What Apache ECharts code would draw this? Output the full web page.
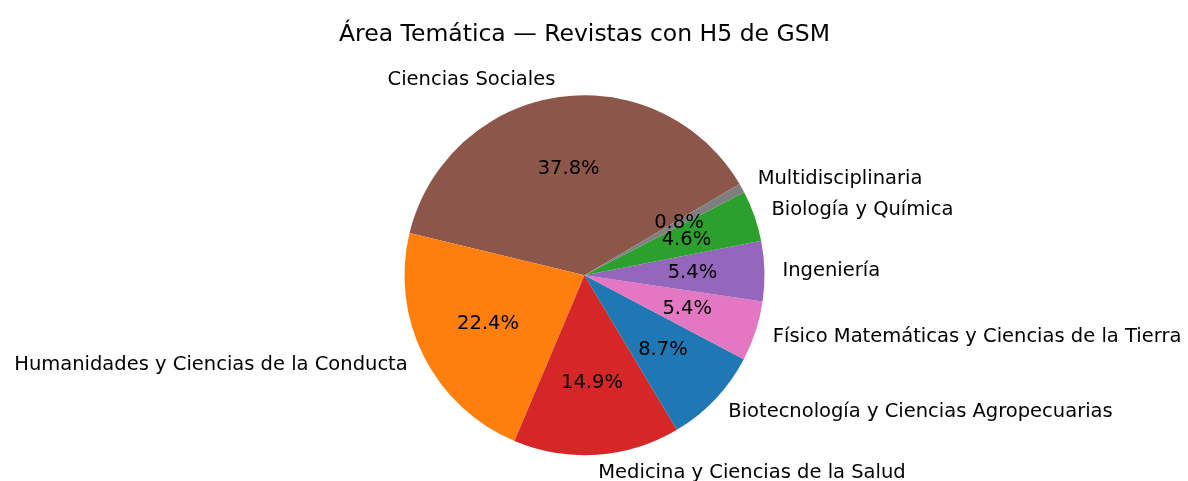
<!DOCTYPE html>
<html>
<head>
<meta charset="utf-8">
<script src="https://cdn.jsdelivr.net/npm/echarts@6/dist/echarts.min.js"></script>
<style>
  html, body { margin: 0; padding: 0; background: #ffffff; }
  #chart { width: 1188px; height: 481px; }
</style>
</head>
<body>
<div id="chart"></div>
<script>
const titleText = 'Área Temática — Revistas con H5 de GSM';
const categories = [
  'Ciencias Sociales',
  'Humanidades y Ciencias de la Conducta',
  'Medicina y Ciencias de la Salud',
  'Biotecnología y Ciencias Agropecuarias',
  'Físico Matemáticas y Ciencias de la Tierra',
  'Ingeniería',
  'Biología y Química',
  'Multidisciplinaria'
];
const counts = [91, 54, 36, 21, 13, 13, 11, 2];
const colors = ['#8c564b', '#ff7f0e', '#d62728', '#1f77b4', '#e377c2', '#9467bd', '#2ca02c', '#7f7f7f'];

const total = counts.reduce((a, b) => a + b, 0);
const FONT = 'DejaVu Sans';
const CX = 584.5, CY = 275.3, R = 180;
const START = 30.5;

const pieData = categories.map((name, i) => ({
  name: name, value: counts[i], itemStyle: { color: colors[i] }
}));
const pctData = categories.map((name, i) => ({ name: name, value: counts[i] }));

const chart = echarts.init(document.getElementById('chart'), null, { renderer: 'canvas' });
chart.setOption({
  backgroundColor: '#ffffff',
  animation: false,
  title: {
    text: titleText,
    left: CX - 5,
    textAlign: 'center',
    top: 18,
    textStyle: { fontFamily: FONT, fontSize: 23.5, fontWeight: 'normal', color: '#000000' }
  },
  series: [
    {
      type: 'pie',
      center: [CX, CY],
      radius: [0, R],
      startAngle: START,
      clockwise: false,
      avoidLabelOverlap: false,
      minShowLabelAngle: 0,
      data: pieData,
      itemStyle: { borderWidth: 0 },
      emphasis: { disabled: true },
      label: {
        show: true,
        position: 'outside',
        fontFamily: FONT,
        fontSize: 19.5,
        color: '#000000',
        distanceToLabelLine: 0,
        formatter: '{b}'
      },
      labelLine: { show: false, length: R * 0.1, length2: 0 },
      labelLayout: { hideOverlap: false, moveOverlap: null }
    },
    {
      type: 'pie',
      center: [CX, CY],
      radius: [0, R * 0.6],
      startAngle: START,
      clockwise: false,
      avoidLabelOverlap: false,
      minShowLabelAngle: 0,
      silent: true,
      z: 5,
      data: pctData,
      itemStyle: { color: 'rgba(0,0,0,0)', borderWidth: 0 },
      emphasis: { disabled: true },
      label: {
        show: true,
        position: 'outside',
        fontFamily: FONT,
        fontSize: 19.5,
        color: '#000000',
        distanceToLabelLine: 0,
        formatter: p => (p.value / total * 100).toFixed(1) + '%'
      },
      labelLine: { show: false, length: 0, length2: 0 },
      labelLayout: { align: 'center', verticalAlign: 'middle', hideOverlap: false, moveOverlap: null }
    }
  ]
});
</script>
</body>
</html>
